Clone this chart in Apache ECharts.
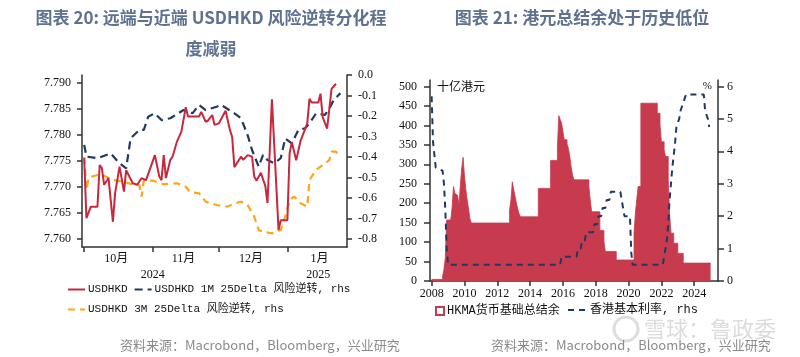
<!DOCTYPE html>
<html><head><meta charset="utf-8">
<script src="https://cdn.jsdelivr.net/npm/echarts@6/dist/echarts.min.js"></script>
<style>html,body{margin:0;padding:0;background:#fff}#c{width:800px;height:357px}</style>
</head><body><div id="c"></div>
<script>
// ---------------- data: left chart ----------------
const fxDates = ['2024-10-01','2024-10-02','2024-10-04','2024-10-07','2024-10-08','2024-10-09','2024-10-10','2024-10-12','2024-10-14','2024-10-15','2024-10-17','2024-10-19','2024-10-20','2024-10-23','2024-10-25','2024-10-27','2024-10-29','2024-11-02','2024-11-04','2024-11-05','2024-11-06','2024-11-07','2024-11-09','2024-11-10','2024-11-12','2024-11-14','2024-11-16','2024-11-17','2024-11-22','2024-11-23','2024-11-25','2024-11-26','2024-11-28','2024-11-29','2024-12-01','2024-12-04','2024-12-06','2024-12-07','2024-12-08','2024-12-11','2024-12-12','2024-12-14','2024-12-16','2024-12-17','2024-12-18','2024-12-20','2024-12-22','2024-12-23','2024-12-25','2024-12-28','2024-12-29','2025-01-01','2025-01-02','2025-01-03','2025-01-05','2025-01-07','2025-01-10','2025-01-11','2025-01-12','2025-01-15','2025-01-16','2025-01-17','2025-01-19','2025-01-21','2025-01-23'];
const fxValues = [7.7755,7.7640,7.7662,7.7662,7.7742,7.7736,7.7704,7.7717,7.7633,7.7688,7.7739,7.7691,7.7732,7.7707,7.7704,7.7717,7.7713,7.7761,7.7720,7.7713,7.7761,7.7717,7.7752,7.7758,7.7787,7.7806,7.7853,7.7835,7.7835,7.7844,7.7825,7.7827,7.7838,7.7819,7.7822,7.7846,7.7809,7.7796,7.7738,7.7758,7.7752,7.7761,7.7758,7.7720,7.7712,7.7727,7.7702,7.7669,7.7868,7.7617,7.7636,7.7636,7.7764,7.7786,7.7751,7.7789,7.7822,7.7869,7.7862,7.7862,7.7879,7.7834,7.7812,7.7888,7.7898];

const rr1mDates = ['2024-10-01','2024-10-02','2024-10-07','2024-10-13','2024-10-17','2024-10-20','2024-10-22','2024-10-26','2024-10-28','2024-10-30','2024-11-02','2024-11-05','2024-11-09','2024-11-15','2024-11-19','2024-11-22','2024-11-25','2024-11-30','2024-12-02','2024-12-08','2024-12-11','2024-12-14','2024-12-16','2024-12-19','2024-12-21','2024-12-23','2024-12-26','2024-12-29','2024-12-31','2025-01-03','2025-01-06','2025-01-09','2025-01-11','2025-01-14','2025-01-18','2025-01-20','2025-01-22','2025-01-25'];
const rr1mValues = [-0.341,-0.398,-0.406,-0.382,-0.431,-0.455,-0.309,-0.268,-0.268,-0.203,-0.187,-0.220,-0.211,-0.171,-0.187,-0.146,-0.171,-0.155,-0.146,-0.187,-0.211,-0.293,-0.366,-0.447,-0.390,-0.415,-0.431,-0.406,-0.309,-0.333,-0.268,-0.260,-0.236,-0.187,-0.195,-0.163,-0.122,-0.089];

const rr3mDates = ['2024-10-01','2024-10-02','2024-10-03','2024-10-07','2024-10-10','2024-10-14','2024-10-19','2024-10-24','2024-10-26','2024-10-27','2024-10-28','2024-11-01','2024-11-06','2024-11-12','2024-11-16','2024-11-18','2024-11-22','2024-11-25','2024-11-30','2024-12-05','2024-12-08','2024-12-11','2024-12-14','2024-12-17','2024-12-19','2024-12-21','2024-12-25','2024-12-29','2024-12-31','2025-01-02','2025-01-04','2025-01-07','2025-01-10','2025-01-11','2025-01-14','2025-01-17','2025-01-20','2025-01-21','2025-01-23','2025-01-25'];
const rr3mValues = [-0.40,-0.56,-0.50,-0.488,-0.492,-0.512,-0.522,-0.537,-0.537,-0.593,-0.515,-0.515,-0.533,-0.528,-0.545,-0.572,-0.577,-0.618,-0.634,-0.642,-0.626,-0.618,-0.634,-0.691,-0.756,-0.764,-0.772,-0.756,-0.691,-0.610,-0.593,-0.626,-0.642,-0.512,-0.463,-0.439,-0.415,-0.374,-0.374,-0.398];

const monthStartDates = ['2024-10-01','2024-11-01','2024-12-01','2025-01-01','2025-02-01'];
const monthLabels = ['10月','11月','12月','1月'];
const yearLabelDates = ['2024-11-01','2025-01-15'];
const yearLabels = ['2024','2025'];
const fxTicks = [7.760,7.765,7.770,7.775,7.780,7.785,7.790];
const rrTicks = [0,-0.1,-0.2,-0.3,-0.4,-0.5,-0.6,-0.7,-0.8];

// ---------------- data: right chart ----------------
const balDates = ['2008-01','2008-09','2008-10','2008-11','2008-12','2009-03','2009-04','2009-05','2009-06','2009-07','2009-08','2009-09','2009-10','2009-11','2009-12','2010-01','2010-02','2010-03','2010-04','2010-05','2010-06','2012-10','2012-11','2012-12','2013-01','2013-02','2013-03','2013-04','2013-05','2013-06','2014-07','2015-04','2015-09','2015-10','2015-11','2015-12','2016-01','2016-02','2016-04','2016-05','2016-06','2016-07','2016-08','2016-09','2017-08','2017-09','2017-10','2018-04','2018-07','2018-08','2019-04','2020-05','2020-06','2020-07','2020-08','2020-10','2021-10','2021-12','2022-01','2022-03','2022-04','2022-06','2022-07','2022-08','2022-10','2023-01','2023-05','2025-01'];
const balValues = [4,12,30,60,157,160,191,243,225,220,218,195,247,290,318,270,235,208,185,160,149,183,208,255,235,218,200,185,172,165,238,310,346,425,415,406,384,363,352,341,320,294,273,260,243,208,178,130,101,76,54,123,174,210,243,457,431,401,358,337,320,260,174,123,97,71,46,46];

const rateDates = ['2008-01','2008-02','2008-04','2008-09','2008-10','2008-11','2008-12','2009-01','2015-11','2015-12','2016-11','2016-12','2017-02','2017-03','2017-05','2017-06','2017-11','2017-12','2018-02','2018-03','2018-05','2018-06','2018-08','2018-09','2018-11','2018-12','2019-07','2019-08','2019-09','2019-10','2020-02','2020-03','2020-04','2022-02','2022-03','2022-04','2022-05','2022-06','2022-07','2022-08','2022-09','2022-10','2022-11','2022-12','2023-01','2023-02','2023-03','2023-04','2023-05','2023-06','2023-07','2024-08','2024-09','2024-10','2024-11','2024-12'];
const rateValues = [5.7,4.3,3.5,3.4,3.0,2.2,1.0,0.5,0.5,0.75,0.75,1.0,1.0,1.25,1.25,1.5,1.5,1.75,1.75,2.0,2.0,2.25,2.25,2.5,2.5,2.75,2.75,2.5,2.25,2.0,2.0,0.86,0.5,0.5,0.75,0.75,1.25,1.75,2.5,2.5,3.5,3.5,4.25,4.75,4.75,5.0,5.25,5.25,5.5,5.5,5.75,5.75,5.25,5.25,5.0,4.75];

const yearTicks = [2008,2010,2012,2014,2016,2018,2020,2022,2024];
const balTicks = [0,50,100,150,200,250,300,350,400,450,500];
const rateTicks = [0,1,2,3,4,5,6];

// ---------------- helpers ----------------
const DAY0 = Date.parse('2024-09-30T00:00:00Z');
const dayOf = s => (Date.parse(s + 'T00:00:00Z') - DAY0) / 864e5;
const yearOf = s => { const [y, m] = s.split('-').map(Number); return y + (m - 1) / 12; };
const pairs = (xs, ys, f) => xs.map((d, i) => [f(d), ys[i]]);

const monthMid = monthLabels.map((_, i) => (dayOf(monthStartDates[i]) + dayOf(monthStartDates[i + 1])) / 2 - 1);
const yearPos = yearLabelDates.map(dayOf);
const nearestLabel = (pos, labels) => v => {
  let bi = 0, bd = Infinity;
  pos.forEach((p, i) => { const d = Math.abs(p - v); if (d < bd) { bd = d; bi = i; } });
  return labels[bi];
};

const AX = '#333';
const serif = "'Liberation Serif','Times New Roman','Noto Sans CJK SC',serif";
const mono = "'Liberation Mono','Noto Sans CJK SC',monospace";
const axisBase = (extra) => Object.assign({
  axisLine: { show: true, onZero: false, lineStyle: { color: AX, width: 1.5 } },
  splitLine: { show: false },
}, extra);

const RED = '#C8283E', NAVY = '#1F3A60', ORANGE = '#FFA514', AREA = '#C83A4D';
const NAME1 = 'USDHKD', NAME2 = 'USDHKD 1M 25Delta 风险逆转, rhs', NAME3 = 'USDHKD 3M 25Delta 风险逆转, rhs';
const NAME4 = 'HKMA货币基础总结余', NAME5 = '香港基本利率, rhs';

const legendLine = { padding: 0, itemWidth: 17, itemHeight: 10, itemGap: 6, itemStyle: { opacity: 0 } };

const chart = echarts.init(document.getElementById('c'), null, { renderer: 'canvas' });
chart.setOption({
  animation: false,
  backgroundColor: '#fff',
  grid: [
    { left: 82, top: 75, width: 265, height: 172 },
    { left: 430, top: 80, width: 288, height: 201 }
  ],
  xAxis: [
    axisBase({
      type: 'value', gridIndex: 0, min: 0, max: 120, position: 'bottom',
      axisTick: { show: true, length: 5, lineStyle: { color: AX, width: 1.5 }, customValues: monthStartDates.slice(0, 4).map(dayOf) },
      axisLabel: { customValues: monthMid, formatter: nearestLabel(monthMid, monthLabels), color: '#111', fontSize: 12, fontFamily: serif, margin: 6 }
    }),
    {
      type: 'value', gridIndex: 0, min: 0, max: 120, position: 'bottom', offset: 16,
      axisLine: { show: false }, axisTick: { show: false }, splitLine: { show: false },
      axisLabel: { customValues: yearPos, formatter: nearestLabel(yearPos, yearLabels), color: '#111', fontSize: 12, fontFamily: serif, margin: 6 }
    },
    axisBase({
      type: 'value', gridIndex: 1, min: 2007.9, max: 2025.45, position: 'bottom',
      axisTick: { show: true, length: 5, lineStyle: { color: AX, width: 1.5 }, customValues: yearTicks },
      axisLabel: { customValues: yearTicks, formatter: v => String(Math.round(v)), color: '#111', fontSize: 12, fontFamily: serif, margin: 7 }
    })
  ],
  yAxis: [
    axisBase({
      type: 'value', gridIndex: 0, position: 'left', min: 7.75846, max: 7.79148,
      axisTick: { show: true, length: 5, lineStyle: { color: AX, width: 1.5 }, customValues: fxTicks },
      axisLabel: { customValues: fxTicks, formatter: v => v.toFixed(3), color: '#111', fontSize: 12, fontFamily: serif, margin: 11 }
    }),
    axisBase({
      type: 'value', gridIndex: 0, position: 'right', min: -0.839, max: 0,
      axisTick: { show: true, length: 5, lineStyle: { color: AX, width: 1.5 }, customValues: rrTicks },
      axisLabel: { customValues: rrTicks, formatter: v => (Math.abs(v) < 1e-9 ? '0.0' : v.toFixed(1)), color: '#111', fontSize: 12, fontFamily: serif, margin: 11 }
    }),
    axisBase({
      type: 'value', gridIndex: 1, position: 'left', min: 0, max: 516.7,
      axisTick: { show: true, length: 6, lineStyle: { color: AX, width: 1.5 }, customValues: balTicks },
      axisLabel: { customValues: balTicks, formatter: v => String(Math.round(v)), color: '#111', fontSize: 12, fontFamily: serif, margin: 13 }
    }),
    axisBase({
      type: 'value', gridIndex: 1, position: 'right', min: 0, max: 6.2,
      axisTick: { show: true, length: 6, lineStyle: { color: AX, width: 1.5 }, customValues: rateTicks },
      axisLabel: { customValues: rateTicks, formatter: v => String(Math.round(v)), color: '#111', fontSize: 12, fontFamily: serif, margin: 9 }
    })
  ],
  legend: [
    Object.assign({ data: [NAME1, NAME2], left: 67, top: 284,
      textStyle: { fontFamily: mono, fontSize: 11, color: '#111', padding: [0, 0, 0, -2] } }, legendLine),
    Object.assign({ data: [NAME3], left: 67, top: 304,
      textStyle: { fontFamily: mono, fontSize: 11, color: '#111', padding: [0, 0, 0, -2] } }, legendLine),
    { data: [{ name: NAME4, icon: 'rect', itemStyle: { color: '#fff', borderColor: AREA, borderWidth: 2 } }],
      left: 435, top: 305, padding: 0, itemWidth: 8, itemHeight: 8, itemGap: 4,
      textStyle: { fontFamily: mono, fontSize: 12, color: '#111', padding: [0, 0, 0, -2] } },
    Object.assign({ data: [NAME5], left: 567, top: 304,
      textStyle: { fontFamily: mono, fontSize: 12, color: '#111', padding: [0, 0, 0, -1] } }, legendLine, { itemWidth: 18 })
  ],
  series: [
    { name: NAME1, type: 'line', xAxisIndex: 0, yAxisIndex: 0, symbol: 'none', z: 3,
      data: pairs(fxDates, fxValues, dayOf), lineStyle: { color: RED, width: 2 }, itemStyle: { color: RED } },
    { name: NAME2, type: 'line', xAxisIndex: 0, yAxisIndex: 1, symbol: 'none', z: 2,
      data: pairs(rr1mDates, rr1mValues, dayOf), lineStyle: { color: NAVY, width: 2.2, type: [8, 5] }, itemStyle: { color: NAVY } },
    { name: NAME3, type: 'line', xAxisIndex: 0, yAxisIndex: 1, symbol: 'none', z: 2,
      data: pairs(rr3mDates, rr3mValues, dayOf), lineStyle: { color: ORANGE, width: 2.2, type: [7, 5] }, itemStyle: { color: ORANGE } },
    { name: NAME4, type: 'line', xAxisIndex: 2, yAxisIndex: 2, symbol: 'none', step: 'end',
      data: pairs(balDates, balValues, yearOf), lineStyle: { color: AREA, width: 0.8 },
      areaStyle: { color: AREA, opacity: 1 }, itemStyle: { color: AREA } },
    { name: NAME5, type: 'line', xAxisIndex: 2, yAxisIndex: 3, symbol: 'none', z: 3,
      data: pairs(rateDates, rateValues, yearOf), lineStyle: { color: NAVY, width: 2, type: [6, 5] }, itemStyle: { color: NAVY } }
  ],
  graphic: [
    { type: 'text', x: 211, y: 18, style: { text: '图表 20: 远端与近端 USDHKD 风险逆转分化程', textAlign: 'center', textVerticalAlign: 'middle', fill: '#5F7191', font: "bold 17px 'Noto Sans CJK SC', sans-serif" } },
    { type: 'text', x: 211, y: 49, style: { text: '度减弱', textAlign: 'center', textVerticalAlign: 'middle', fill: '#5F7191', font: "bold 17px 'Noto Sans CJK SC', sans-serif" } },
    { type: 'text', x: 582, y: 18, style: { text: '图表 21: 港元总结余处于历史低位', textAlign: 'center', textVerticalAlign: 'middle', fill: '#5F7191', font: "bold 17px 'Noto Sans CJK SC', sans-serif" } },
    { type: 'text', x: 437, y: 86, style: { text: '十亿港元', textAlign: 'left', textVerticalAlign: 'middle', fill: '#111', font: "12px 'Noto Sans CJK SC', sans-serif" } },
    { type: 'text', x: 712, y: 86, style: { text: '%', textAlign: 'right', textVerticalAlign: 'middle', fill: '#111', font: "11px 'Liberation Serif', serif" } },
    { type: 'circle', shape: { cx: 626, cy: 329, r: 12 }, style: { fill: 'none', stroke: '#dedede', lineWidth: 3 } },
    { type: 'text', x: 644, y: 329, style: { text: '雪球：鲁政委', textAlign: 'left', textVerticalAlign: 'middle', fill: '#dcdcdc', font: "22px 'Noto Sans CJK SC', sans-serif" } },
    { type: 'text', x: 120, y: 345, style: { text: '资料来源：Macrobond，Bloomberg，兴业研究', textAlign: 'left', textVerticalAlign: 'middle', fill: '#8a8a8a', font: "13px 'Noto Sans CJK SC', sans-serif" } },
    { type: 'text', x: 491, y: 345, style: { text: '资料来源：Macrobond，Bloomberg，兴业研究', textAlign: 'left', textVerticalAlign: 'middle', fill: '#8a8a8a', font: "13px 'Noto Sans CJK SC', sans-serif" } }
  ]
});
</script></body></html>
